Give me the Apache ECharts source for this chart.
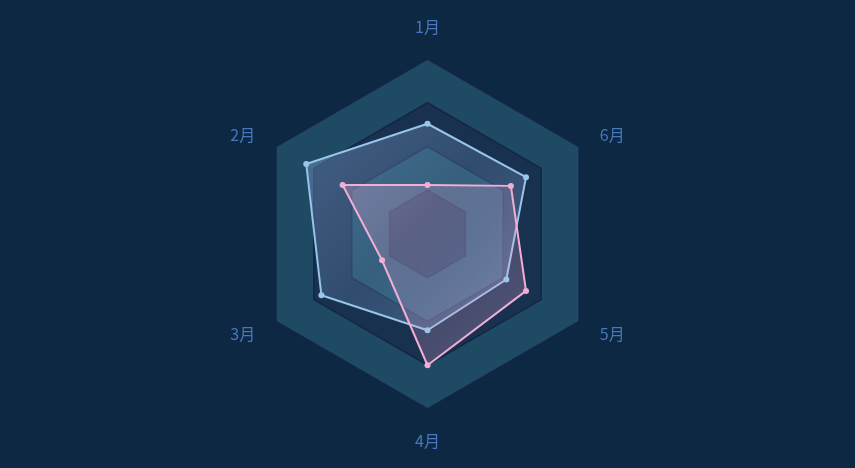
<!DOCTYPE html>
<html>
<head>
<meta charset="utf-8">
<style>
  html, body { margin: 0; padding: 0; background: #0c2842; }
  #chart { width: 855px; height: 468px; }
</style>
<script src="https://cdn.jsdelivr.net/npm/echarts@6/dist/echarts.min.js"></script>
</head>
<body>
<div id="chart"></div>
<script>
const months = ['1月', '2月', '3月', '4月', '5月', '6月']
const maxValue = 100
const seriesA = [63, 80, 70, 55, 52, 65]
const seriesB = [28, 56, 30, 75, 65, 55]

const chart = echarts.init(document.getElementById('chart'))

// diagonal gradient, lighter at both corners
const fill = (r, g, b, hi, lo) => new echarts.graphic.LinearGradient(0, 0, 1, 1, [
  { offset: 0, color: `rgba(${r},${g},${b},${hi})` },
  { offset: 0.5, color: `rgba(${r},${g},${b},${lo})` },
  { offset: 1, color: `rgba(${r},${g},${b},${hi})` }
])

const option = {
  backgroundColor: '#0c2842',
  radar: {
    center: ['50%', '50%'],
    radius: 175,
    splitNumber: 4,
    shape: 'polygon',
    nameGap: 24,
    axisName: {
      color: '#4a76bd',
      fontSize: 16,
      fontFamily: 'Noto Sans CJK SC'
    },
    indicator: months.map(m => ({ name: m, max: maxValue })),
    axisLine: { show: false },
    splitLine: {
      lineStyle: { color: '#15254a', width: 1.5 }
    },
    splitArea: {
      areaStyle: {
        color: ['#16304e', '#1e4a63', '#17314f', '#1e4a63']
      }
    }
  },
  series: [
    {
      type: 'radar',
      symbol: 'circle',
      symbolSize: 6,
      data: [
        {
          value: seriesA,
          itemStyle: { color: '#9ac6ea' },
          lineStyle: { color: '#9ac6ea', width: 2 },
          areaStyle: { color: fill(150, 185, 235, 0.5, 0.28) }
        },
        {
          value: seriesB,
          itemStyle: { color: '#f3aed4' },
          lineStyle: { color: '#f3aed4', width: 2 },
          areaStyle: { color: fill(235, 170, 215, 0.42, 0.28) }
        }
      ]
    }
  ]
}

chart.setOption(option)
</script>
</body>
</html>
